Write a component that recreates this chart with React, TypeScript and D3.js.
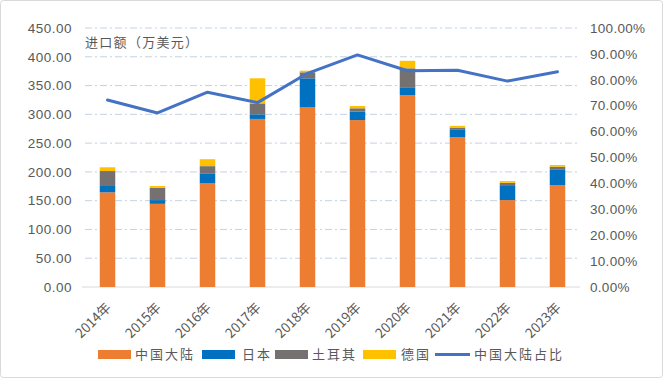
import React from "react";
import * as d3 from "d3";

const years = ["2014年", "2015年", "2016年", "2017年", "2018年", "2019年", "2020年", "2021年", "2022年", "2023年"];
const china = [164.5, 144.5, 180, 292, 312, 290, 333.5, 260, 151, 177];
const japan = [11, 6.5, 17.5, 8, 50.6, 15, 13.5, 14, 24.5, 27.5];
const turkey = [26, 21.5, 12.5, 19, 10.4, 5.5, 33, 3, 5.5, 4.5];
const germany = [6.5, 3, 12, 43.6, 2.8, 4, 13, 3, 3, 3];
const chinaShare = [0.722, 0.672, 0.752, 0.712, 0.825, 0.896, 0.835, 0.837, 0.795, 0.831];
const leftTicks = [0, 50, 100, 150, 200, 250, 300, 350, 400, 450];
const rightTicks = [0, 0.1, 0.2, 0.3, 0.4, 0.5, 0.6, 0.7, 0.8, 0.9, 1.0];
const seriesNames = ["中国大陆", "日本", "土耳其", "德国"];
const seriesColors = ["#ED7D31", "#0070C0", "#767171", "#FFC000"];
const lineName = "中国大陆占比";
const lineColor = "#4472C4";
const axisTitle = "进口额（万美元）";

export default function App() {
  const W = 664, H = 380;
  const x = d3.scaleBand<string>().domain(years).range([82.5, 582.5]).paddingInner(0.69).paddingOuter(0.345);
  const y = d3.scaleLinear().domain([0, 450]).range([287, 28]);
  const yr = d3.scaleLinear().domain([0, 1]).range([287, 28]);
  const fmtL = d3.format(".2f");
  const fmtR = d3.format(".2%");

  const rows = years.map((yv, i) => ({ year: yv, s0: china[i], s1: japan[i], s2: turkey[i], s3: germany[i] }));
  const stack = d3.stack<any>().keys(["s0", "s1", "s2", "s3"])(rows);

  const line = d3.line<number>()
    .x((_, i) => (x(years[i]) as number) + x.bandwidth() / 2)
    .y((d) => yr(d));

  const textColor = "#595959";
  const numFont = "'Liberation Sans', Arial, sans-serif";
  const cjkFont = "'Noto Sans CJK SC', sans-serif";

  const legendItems = [
    { type: "rect", color: seriesColors[0], label: seriesNames[0], x0: 98, tx: 135 },
    { type: "rect", color: seriesColors[1], label: seriesNames[1], x0: 202, tx: 242 },
    { type: "rect", color: seriesColors[2], label: seriesNames[2], x0: 275, tx: 312 },
    { type: "rect", color: seriesColors[3], label: seriesNames[3], x0: 363, tx: 401 },
    { type: "line", color: lineColor, label: lineName, x0: 435, tx: 474 },
  ];

  return (
    <svg width={W} height={H} style={{ position: "absolute", left: 0, top: 0, background: "#fff" }}>
      <rect x={0.5} y={0.5} width={W - 2} height={H - 3} rx={3} fill="#fff" stroke="#D9D9D9" />
      {leftTicks.filter((t) => t > 0).map((t) => (
        <line key={t} x1={85} x2={580} y1={y(t)} y2={y(t)} stroke="#C5D3E2" strokeWidth={1} strokeDasharray="7,3,2,3" />
      ))}
      <line x1={82} x2={580} y1={y(0)} y2={y(0)} stroke="#D9D9D9" strokeWidth={1} />
      {leftTicks.map((t) => (
        <text key={t} x={72} y={y(t)} dy="0.35em" textAnchor="end" fontSize={13.5} fill={textColor} fontFamily={numFont} letterSpacing={0.5}>
          {fmtL(t)}
        </text>
      ))}
      {rightTicks.map((t) => (
        <text key={t} x={590} y={yr(t)} dy="0.35em" textAnchor="start" fontSize={13.5} fill={textColor} fontFamily={numFont} letterSpacing={0.3}>
          {fmtR(t)}
        </text>
      ))}
      {stack.map((layer, li) => (
        <g key={li} fill={seriesColors[li]}>
          {layer.map((d, i) => (
            <rect key={i} x={x(years[i])} y={y(d[1])} width={x.bandwidth()} height={Math.max(0, y(d[0]) - y(d[1]))} />
          ))}
        </g>
      ))}
      <path d={line(chinaShare) as string} fill="none" stroke={lineColor} strokeWidth={3} strokeLinejoin="round" strokeLinecap="round" />
      <text x={85} y={42} dy="0.35em" fontSize={13} fill={textColor} fontFamily={cjkFont} letterSpacing={1.3}>
        {axisTitle}
      </text>
      {years.map((yv) => {
        const cx = (x(yv) as number) + x.bandwidth() / 2 + 1;
        const cy = 305;
        return (
          <text key={yv} x={cx} y={cy} textAnchor="end" fontSize={13.5} fill={textColor} fontFamily={cjkFont} transform={`rotate(-45 ${cx} ${cy})`} dy="0.35em">
            {yv}
          </text>
        );
      })}
      {legendItems.map((it) => (
        <g key={it.label}>
          {it.type === "rect" ? (
            <rect x={it.x0} y={350} width={33} height={9} fill={it.color} />
          ) : (
            <line x1={it.x0} x2={it.x0 + 35} y1={354.5} y2={354.5} stroke={it.color} strokeWidth={3} />
          )}
          <text x={it.tx} y={354.5} dy="0.35em" fontSize={13} fill={textColor} fontFamily={cjkFont} letterSpacing={2}>
            {it.label}
          </text>
        </g>
      ))}
    </svg>
  );
}
